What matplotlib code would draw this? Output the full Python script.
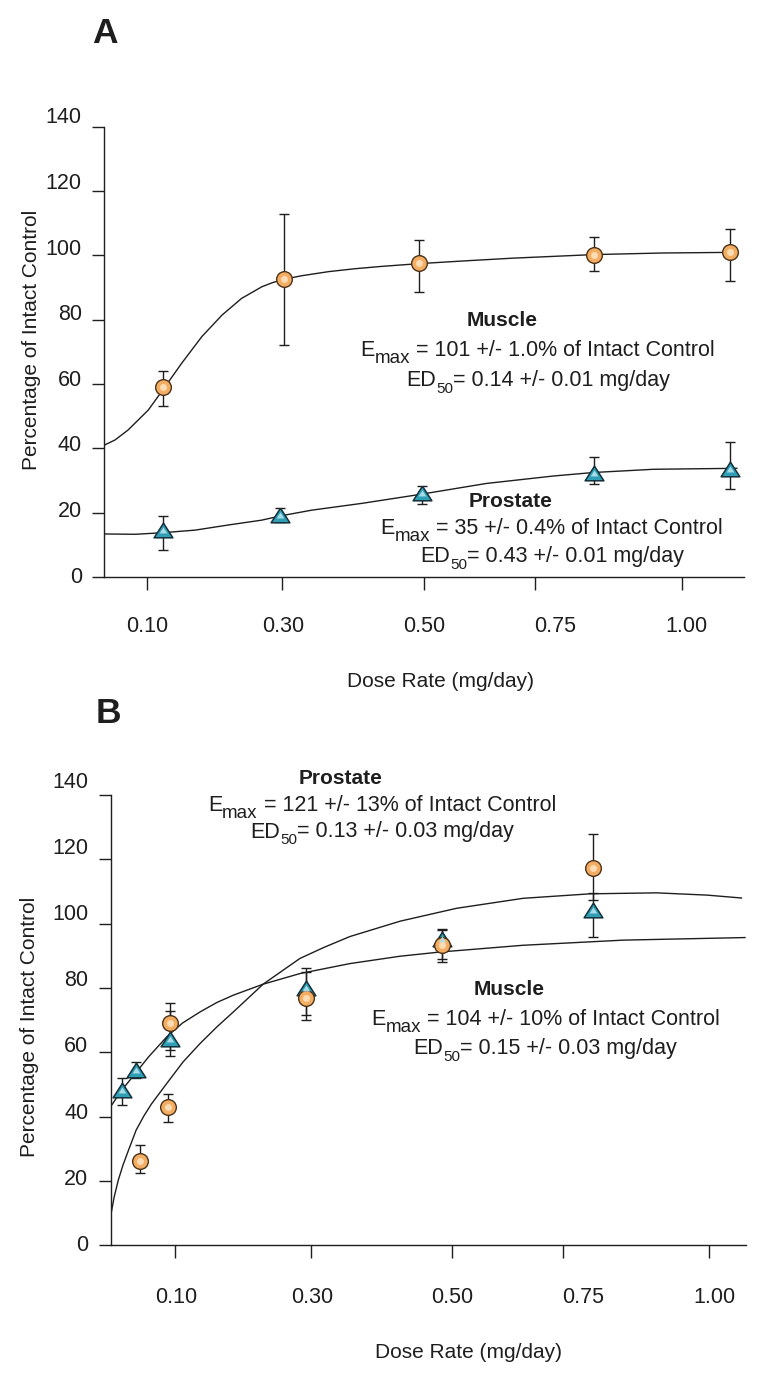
import matplotlib.pyplot as plt
import matplotlib.transforms as mtransforms

plt.rcParams['font.family'] = ['Liberation Sans', 'DejaVu Sans']

# dose axis is drawn with uneven spacing, so x values are axis positions
tick_pos = [0.10, 0.328, 0.566, 0.754, 1.00]
label_pos = [0.101, 0.33, 0.567, 0.787, 1.008]
tick_labels = ['0.10', '0.30', '0.50', '0.75', '1.00']
ytick_vals = [0, 20, 40, 60, 80, 100, 120, 140]

# panel A - circles (muscle), triangles (prostate)
a_x_circ = [0.128, 0.331, 0.559, 0.852, 1.082]
a_circ = [59.1, 92.6, 97.5, 100.2, 100.9]
a_circ_hi = [64.1, 112.9, 104.7, 105.7, 108.0]
a_circ_lo = [53.2, 72.1, 88.6, 95.2, 92.0]
a_x_tri = [0.128, 0.325, 0.563, 0.852, 1.082]
a_tri = [14.6, 19.3, 26.0, 32.2, 33.5]
a_tri_hi = [19.1, 21.6, 28.4, 37.2, 42.0]
a_tri_lo = [8.4, 17.0, 22.6, 28.8, 27.3]

# fitted curves
a_fit_muscle_x = [0.029, 0.047, 0.069, 0.103, 0.128, 0.159, 0.193, 0.227, 0.260, 0.294,
                  0.312, 0.331, 0.360, 0.406, 0.450, 0.493, 0.559, 0.640, 0.717, 0.852,
                  0.969, 1.087]
a_fit_muscle_y = [41.0, 42.6, 45.7, 51.9, 58.3, 66.4, 74.7, 81.4, 86.6, 90.2,
                  91.5, 92.5, 93.6, 94.9, 95.8, 96.5, 97.4, 98.3, 99.1, 100.2,
                  100.7, 100.9]
a_fit_prost_x = [0.030, 0.081, 0.128, 0.182, 0.238, 0.294, 0.325, 0.378, 0.462, 0.557,
                 0.672, 0.784, 0.852, 0.953, 1.093]
a_fit_prost_y = [13.4, 13.3, 13.8, 14.6, 16.2, 17.7, 19.0, 20.8, 22.9, 25.6,
                 29.1, 31.4, 32.5, 33.5, 33.8]

# panel B
b_x_circ = [0.040, 0.087, 0.091, 0.321, 0.549, 0.804]
b_circ = [26.2, 42.9, 69.0, 76.8, 93.5, 117.2]
b_circ_hi = [31.1, 46.9, 75.4, 85.0, 98.5, 128.0]
b_circ_lo = [22.5, 38.4, 60.7, 70.0, 88.1, 107.5]
b_x_tri = [0.011, 0.034, 0.091, 0.321, 0.549, 0.804]
b_tri = [48.4, 54.5, 64.0, 79.9, 95.4, 104.2]
b_tri_hi = [52.1, 57.1, 72.9, 86.1, 98.0, 109.7]
b_tri_lo = [43.6, 52.0, 58.8, 71.6, 89.0, 95.9]

b_fit_prost_x = [-0.009, -0.003, 0.004, 0.012, 0.020, 0.034, 0.047, 0.060, 0.0855, 0.113,
                 0.142, 0.170, 0.198, 0.248, 0.310, 0.350, 0.394, 0.479, 0.574, 0.686,
                 0.799, 0.911, 0.996, 1.054]
b_fit_prost_y = [9.0, 15.0, 20.3, 25.0, 29.0, 35.8, 40.2, 44.0, 50.3, 57.0,
                 62.8, 67.9, 72.6, 81.2, 89.2, 92.6, 96.0, 100.8, 104.8, 107.9,
                 109.3, 109.6, 108.9, 108.0]
b_fit_muscle_x = [-0.009, 0.010, 0.029, 0.055, 0.0855, 0.112, 0.142, 0.170, 0.198, 0.248,
                  0.310, 0.394, 0.479, 0.546, 0.686, 0.855, 1.060]
b_fit_muscle_y = [43.1, 48.3, 52.6, 58.6, 64.8, 69.1, 72.6, 75.5, 77.8, 81.2,
                  84.5, 87.6, 89.9, 91.2, 93.3, 94.9, 95.7]

INK = '#1e1e1e'
ORANGE, ORANGE_LT, ORANGE_EDGE = '#F4AE63', '#FDE2BE', '#4d3218'
TEAL, TEAL_LT, TEAL_EDGE = '#2F9FB6', '#B5E3EC', '#15313a'
TRI = [(0, 0.78), (-1, -0.78), (1, -0.78), (0, 0.78)]
FS = 15.5

W, H = 770, 1375
fig = plt.figure(figsize=(W / 100, H / 100), dpi=100)


def px(x, y):
    return x / W, 1 - y / H


def errs(y, lo, hi):
    return [[v - l for v, l in zip(y, lo)], [h - v for v, h in zip(y, hi)]]


def panel(ax, xlim, ylab_f, xpad):
    ax.set_xlim(*xlim)
    ax.set_ylim(0, 140)
    for s in ['top', 'right']:
        ax.spines[s].set_visible(False)
    for s in ['left', 'bottom']:
        ax.spines[s].set_linewidth(1.0)
        ax.spines[s].set_color(INK)
    ax.set_yticks(ytick_vals)
    ax.tick_params(axis='y', length=8.6, width=1.0, color=INK, labelleft=False)
    ax.xaxis.remove_overlapping_locs = False
    ax.set_xticks(tick_pos)
    ax.set_xticklabels([])
    ax.tick_params(axis='x', which='major', length=9.7, width=1.0, color=INK)
    ax.set_xticks(label_pos, minor=True)
    ax.set_xticklabels(tick_labels, minor=True)
    ax.tick_params(axis='x', which='minor', length=0, pad=xpad, labelsize=FS, labelcolor=INK)
    # y labels sit a little higher than the ticks toward the top
    tr = mtransforms.offset_copy(mtransforms.blended_transform_factory(ax.transAxes, ax.transData),
                                 fig=fig, x=-16, units='points')
    for v in ytick_vals:
        ax.text(0, v * ylab_f, str(v), transform=tr, ha='right', va='center',
                fontsize=FS, color=INK, clip_on=False)


def draw_points(ax, x, y, lo, hi, kind):
    ax.errorbar(x, y, yerr=errs(y, lo, hi), fmt='none', ecolor=INK, elinewidth=1.0,
                capsize=3.9, capthick=1.0, zorder=2, clip_on=False)
    if kind == 'circle':
        ax.plot(x, y, 'o', ms=11.3, mfc=ORANGE, mec=ORANGE_EDGE, mew=1.0, zorder=4, clip_on=False)
        ax.plot(x, y, 'o', ms=5, mfc=ORANGE_LT, mec='none', zorder=5, alpha=0.9, clip_on=False)
    else:
        ax.plot(x, y, ls='none', marker=TRI, ms=13.5, mfc=TEAL, mec=TEAL_EDGE, mew=1.1,
                zorder=4, clip_on=False)
        ax.plot(x, y, ls='none', marker=TRI, ms=5.5, mfc=TEAL_LT, mec='none', zorder=5,
                alpha=0.9, clip_on=False)


# ---------- panel A ----------
axA = fig.add_axes([104 / W, 1 - 577.1 / H, 639.7 / W, 450.6 / H])
panel(axA, (0.0285, 1.1046), 1.019, 28)
axA.plot(a_fit_muscle_x, a_fit_muscle_y, color=INK, lw=1.0, zorder=3)
axA.plot(a_fit_prost_x, a_fit_prost_y, color=INK, lw=1.0, zorder=3)
draw_points(axA, a_x_circ, a_circ, a_circ_lo, a_circ_hi, 'circle')
draw_points(axA, a_x_tri, a_tri, a_tri_lo, a_tri_hi, 'tri')
axA.set_xlabel('Dose Rate (mg/day)', fontsize=15, color=INK)
axA.xaxis.set_label_coords(0.526, -0.245)
axA.xaxis.label.set_va('baseline')
axA.set_ylabel('Percentage of Intact Control', fontsize=15, color=INK)
axA.yaxis.set_label_coords(-0.1126, 0.527)
axA.yaxis.label.set_va('center')

# ---------- panel B ----------
axB = fig.add_axes([110.6 / W, 1 - 1245.3 / H, 635.6 / W, 450.2 / H])
panel(axB, (-0.009, 1.062), 1.028, 30)
axB.plot(b_fit_prost_x, b_fit_prost_y, color=INK, lw=1.0, zorder=3)
axB.plot(b_fit_muscle_x, b_fit_muscle_y, color=INK, lw=1.0, zorder=3)
draw_points(axB, b_x_tri, b_tri, b_tri_lo, b_tri_hi, 'tri')
draw_points(axB, b_x_circ, b_circ, b_circ_lo, b_circ_hi, 'circle')
axB.set_xlabel('Dose Rate (mg/day)', fontsize=15, color=INK)
axB.xaxis.set_label_coords(0.5636, -0.250)
axB.xaxis.label.set_va('baseline')
axB.set_ylabel('Percentage of Intact Control', fontsize=15, color=INK)
axB.yaxis.set_label_coords(-0.1276, 0.4853)
axB.yaxis.label.set_va('center')

# panel letters
fig.text(*px(92, 43.4), 'A', fontsize=25.5, fontweight='bold', color=INK, ha='left', va='baseline')
fig.text(*px(96, 722.5), 'B', fontsize=25.5, fontweight='bold', color=INK, ha='left', va='baseline')

renderer = fig.canvas.get_renderer()


def sub_line(xc, yb, main, sub, rest, sub_fs, drop):
    # main text, lowered subscript, rest of the line; whole line centred at xc
    parts = [(main, FS, 0), (sub, sub_fs, drop), (rest, FS, 0)]
    texts = [fig.text(0, 0, s, fontsize=f, color=INK, ha='left', va='baseline') for s, f, d in parts]
    widths = [t.get_window_extent(renderer).width for t in texts]
    x = xc - sum(widths) / 2
    for t, w, (s, f, d) in zip(texts, widths, parts):
        t.set_position(px(x, yb + d))
        x += w


notes_bold = [
    (501.7, 325.7, 'Muscle'),
    (510.6, 507.0, 'Prostate'),
    (340.2, 783.8, 'Prostate'),
    (509.0, 995.0, 'Muscle'),
]
for x, y, s in notes_bold:
    fig.text(*px(x, y), s, fontsize=15, fontweight='bold', color=INK, ha='center', va='baseline')

notes_emax = [
    (537.6, 355.7, ' = 101 +/- 1.0% of Intact Control'),
    (552.0, 534.0, ' = 35 +/- 0.4% of Intact Control'),
    (382.0, 810.6, ' = 121 +/- 13% of Intact Control'),
    (545.5, 1025.0, ' = 104 +/- 10% of Intact Control'),
]
for x, y, s in notes_emax:
    sub_line(x, y, 'E', 'max', s, 13.5, 7)

notes_ed = [
    (538.0, 385.7, '= 0.14 +/- 0.01 mg/day'),
    (552.0, 562.0, '= 0.43 +/- 0.01 mg/day'),
    (382.0, 837.5, '= 0.13 +/- 0.03 mg/day'),
    (545.0, 1054.0, '= 0.15 +/- 0.03 mg/day'),
]
for x, y, s in notes_ed:
    sub_line(x, y, 'ED', '50', s, 11, 7)

fig.savefig('out.png', dpi=100)
